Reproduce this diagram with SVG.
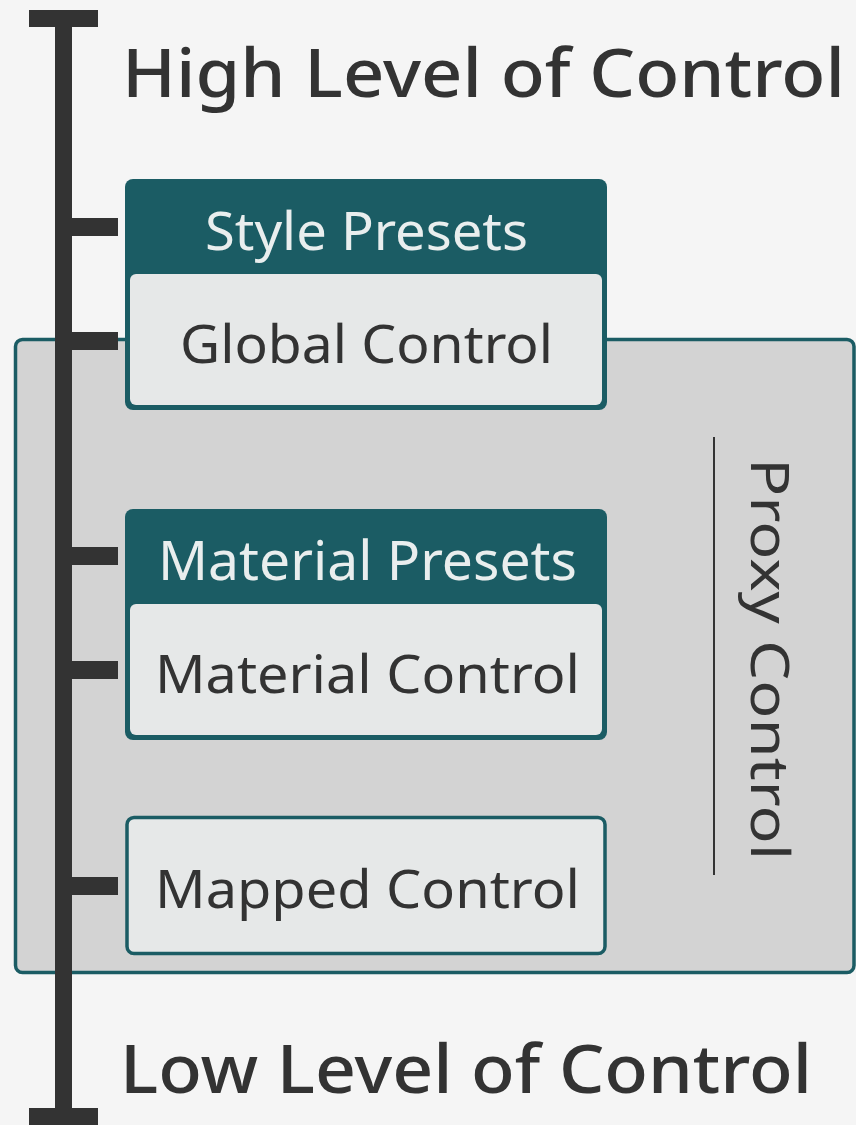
<svg xmlns="http://www.w3.org/2000/svg" width="856" height="1125" viewBox="0 0 856 1125">
<style>
.bar{fill:#333333}
.teal{fill:#1b5c64}
.body{fill:#e6e8e8}
.tx{font-family:"Noto Sans","DejaVu Sans",sans-serif;fill:#333333}
.hd{font-family:"Noto Sans","DejaVu Sans",sans-serif;fill:#e9eeee}
.title{font-family:"Noto Sans","DejaVu Sans",sans-serif;fill:#333333;font-weight:500}
</style>
<rect x="0" y="0" width="856" height="1125" fill="#f5f5f5"/>
<g id="proxy">
<rect x="15.5" y="339.5" width="838.5" height="633" rx="7" fill="#d3d3d3" stroke="#1b5c64" stroke-width="3.5"/>
<line x1="714" y1="437" x2="714" y2="875" stroke="#333333" stroke-width="2"/>
<text class="tx" font-size="52" transform="translate(751,458) rotate(90)" textLength="402" lengthAdjust="spacingAndGlyphs">Proxy Control</text>
</g>
<g id="connectors">
<rect class="bar" x="55" y="10" width="17" height="1115"/>
<rect class="bar" x="29" y="10" width="69" height="17"/>
<rect class="bar" x="29" y="1108" width="69" height="17"/>
<rect class="bar" x="72" y="218" width="46" height="18"/>
<rect class="bar" x="72" y="332" width="46" height="18"/>
<rect class="bar" x="72" y="547" width="46" height="18"/>
<rect class="bar" x="72" y="661" width="46" height="18"/>
<rect class="bar" x="72" y="877" width="46" height="18"/>
</g>
<g id="high-label">
<text class="title" x="122" y="97" font-size="68" textLength="723" lengthAdjust="spacingAndGlyphs">High Level of Control</text>
</g>
<g id="low-label">
<text class="title" x="120" y="1093" font-size="68" textLength="692" lengthAdjust="spacingAndGlyphs">Low Level of Control</text>
</g>
<g id="style-presets">
<rect class="teal" x="125" y="179" width="482" height="231" rx="8"/>
<rect class="body" x="130" y="274" width="472" height="131" rx="6"/>
<text class="hd" x="205" y="250" font-size="52" textLength="323" lengthAdjust="spacingAndGlyphs">Style Presets</text>
<text class="tx" x="180" y="363" font-size="52" textLength="373" lengthAdjust="spacingAndGlyphs">Global Control</text>
</g>
<g id="material-presets">
<rect class="teal" x="125" y="509" width="482" height="231" rx="8"/>
<rect class="body" x="130" y="604" width="472" height="131" rx="6"/>
<text class="hd" x="158" y="580" font-size="54" textLength="419" lengthAdjust="spacingAndGlyphs">Material Presets</text>
<text class="tx" x="155" y="693" font-size="52" textLength="425" lengthAdjust="spacingAndGlyphs">Material Control</text>
</g>
<g id="mapped-control">
<rect class="body" x="127" y="817.5" width="478" height="136" rx="7" stroke="#1b5c64" stroke-width="3.5"/>
<text class="tx" x="155" y="908" font-size="52" textLength="425" lengthAdjust="spacingAndGlyphs">Mapped Control</text>
</g>
</svg>
